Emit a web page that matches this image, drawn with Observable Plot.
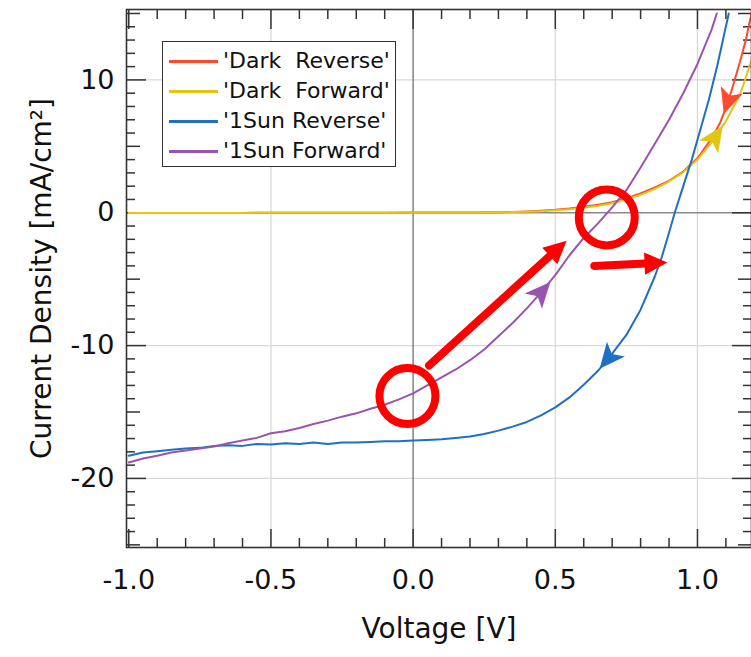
<!DOCTYPE html>
<html><head><meta charset="utf-8">
<script src="https://cdn.jsdelivr.net/npm/d3@7"></script>
<script src="https://cdn.jsdelivr.net/npm/@observablehq/plot@0.6"></script>
<style>
body{margin:0;background:#fff;font-family:"DejaVu Sans",sans-serif;}
#wrap{position:relative;width:751px;height:657px;overflow:hidden;background:#fff;}
#legend{position:absolute;left:162px;top:41px;width:232px;height:124px;border:1.5px solid #333;background:#fff;}
.row{position:absolute;left:0;height:30px;width:100%;}
.row .ln{position:absolute;left:6px;width:49px;top:14px;height:2.5px;}
.row .tx{position:absolute;left:60px;top:0;line-height:30px;font-size:22px;white-space:pre;color:#111;}
</style></head>
<body><div id="wrap"></div>
<script>
// ---- data ----
const seriesNames = ["'Dark  Reverse'", "'Dark  Forward'", "'1Sun Reverse'", "'1Sun Forward'"];
const seriesColors = ["#ff4a2e", "#e2c614", "#1f6fc3", "#9b53b0"];

const darkRevV = [-1.0,-0.9,-0.8,-0.7,-0.6,-0.5,-0.4,-0.3,-0.2,-0.1,0.0,0.1,0.2,0.3,0.35,0.4,0.45,0.5,0.55,0.6,0.65,0.7,0.75,0.8,0.85,0.9,0.95,1.0,1.05,1.08,1.1,1.12,1.15,1.17,1.19];
const darkRevJ = [-0.02,-0.02,-0.01,-0.01,-0.01,0,0,0,0,0,0.01,0.01,0.02,0.04,0.06,0.1,0.15,0.22,0.32,0.45,0.6,0.8,1.1,1.45,1.9,2.4,3.1,4.1,5.6,6.8,7.9,9.2,11.4,13.0,15.0];

const darkFwdV = [-1.0,-0.9,-0.8,-0.7,-0.6,-0.5,-0.4,-0.3,-0.2,-0.1,0.0,0.1,0.2,0.3,0.35,0.4,0.45,0.5,0.55,0.6,0.65,0.7,0.75,0.8,0.85,0.9,0.95,1.0,1.05,1.1,1.15,1.19];
const darkFwdJ = [-0.02,-0.02,-0.01,-0.01,-0.01,0,0,0,0,0,0.01,0.01,0.02,0.03,0.05,0.08,0.12,0.18,0.27,0.38,0.52,0.72,1.0,1.35,1.8,2.35,3.05,4.0,5.3,6.9,8.9,11.5];

const sunRevV = [-1.0,-0.95,-0.9,-0.85,-0.8,-0.75,-0.7,-0.65,-0.6,-0.55,-0.5,-0.45,-0.4,-0.35,-0.3,-0.25,-0.2,-0.15,-0.1,-0.05,0.0,0.05,0.1,0.15,0.2,0.25,0.3,0.35,0.4,0.45,0.5,0.55,0.6,0.65,0.7,0.75,0.8,0.85,0.875,0.9,0.92,0.95,0.98,1.0,1.04,1.07,1.11];
const sunRevJ = [-18.3,-18.05,-17.95,-17.85,-17.75,-17.7,-17.55,-17.5,-17.55,-17.4,-17.45,-17.35,-17.4,-17.3,-17.4,-17.3,-17.3,-17.25,-17.2,-17.2,-17.15,-17.1,-17.05,-16.95,-16.85,-16.65,-16.4,-16.1,-15.75,-15.25,-14.65,-13.9,-12.95,-11.9,-10.6,-9.2,-7.3,-4.8,-3.3,-1.5,0,2.0,4.0,5.5,8.5,11.1,15.0];

const sunFwdV = [-1.0,-0.95,-0.9,-0.85,-0.8,-0.75,-0.7,-0.65,-0.6,-0.55,-0.5,-0.45,-0.4,-0.35,-0.3,-0.25,-0.2,-0.15,-0.1,-0.05,0.0,0.05,0.1,0.15,0.2,0.25,0.3,0.35,0.4,0.45,0.5,0.55,0.6,0.65,0.7,0.75,0.8,0.85,0.9,0.95,1.0,1.05,1.068];
const sunFwdJ = [-18.8,-18.5,-18.3,-18.05,-17.9,-17.75,-17.6,-17.35,-17.15,-16.95,-16.6,-16.45,-16.2,-15.9,-15.65,-15.35,-15.1,-14.75,-14.45,-14.05,-13.6,-13.0,-12.4,-11.8,-11.1,-10.3,-9.3,-8.3,-7.2,-6.0,-4.7,-3.2,-1.9,-0.8,0.4,1.7,3.4,5.2,7.0,9.0,11.2,13.8,15.0];

// sweep-direction markers: series index, voltage, direction (+1 increasing V, -1 decreasing)
const markerSeries = [0, 1, 2, 3];
const markerV = [1.109, 1.06, 0.689, 0.448];
const markerDir = [-1, 1, -1, 1];

// red annotation arrows and circles
const arrowStartV = [0.056, 0.637];
const arrowStartJ = [-11.5, -4.0];
const arrowEndV = [0.54, 0.894];
const arrowEndJ = [-2.1, -3.75];
const circleV = [-0.02, 0.681];
const circleJ = [-13.8, -0.35];

// axis ticks
const xMajor = [-1.0, -0.5, 0.0, 0.5, 1.0];
const xMinor = d3.range(-10, 12).map(i => i / 10).filter(v => Math.abs(v * 2 - Math.round(v * 2)) > 1e-6);
const yMajor = [-20, -10, 0, 10];
const yMid = [-25, -15, -5, 5, 15];
const yMinor = d3.range(-25, 16).filter(v => v % 5 !== 0);
const xGrid = [-0.5, 0.5, 1.0];
const yGrid = [-20, -10, 10];

// ---- layout ----
const W = 751, H = 657, mL = 126, mR = 0, mT = 9, mB = 110;
const xDom = [-1.008, 1.19], yDom = [-25.2, 15.3];
const kx = (W - mL - mR) / (xDom[1] - xDom[0]);
const ky = (H - mT - mB) / (yDom[1] - yDom[0]);

const seriesV = [darkRevV, darkFwdV, sunRevV, sunFwdV];
const seriesJ = [darkRevJ, darkFwdJ, sunRevJ, sunFwdJ];
const tables = seriesV.map((vs, s) => vs.map((v, i) => ({V: v, J: seriesJ[s][i], s: seriesNames[s]})));

function interp(vs, js, v) {
  for (let i = 0; i < vs.length - 1; i++) {
    if (v >= vs[i] && v <= vs[i + 1]) {
      const t = (v - vs[i]) / (vs[i + 1] - vs[i]);
      return {J: js[i] + t * (js[i + 1] - js[i]), slope: (js[i + 1] - js[i]) / (vs[i + 1] - vs[i])};
    }
  }
  return {J: js[js.length - 1], slope: 0};
}

// symbol: rotated shape (angle in degrees, clockwise from "up")
function rotSymbol(points, angleDeg) {
  const a = angleDeg * Math.PI / 180, c = Math.cos(a), s = Math.sin(a);
  return {
    draw(ctx, size) {
      const r = Math.sqrt(size / Math.PI);
      points.forEach(([px, py], i) => {
        const x = px * r, y = py * r;
        const X = x * c - y * s, Y = x * s + y * c;
        if (i === 0) ctx.moveTo(X, Y); else ctx.lineTo(X, Y);
      });
      ctx.closePath();
    }
  };
}
const notched = [[0, -1.85], [1.45, 1.35], [0, 0.55], [-1.45, 1.35]];
const plainTip = [[0, 0], [1.4, 2.85], [-1.4, 2.85]];

const markerMarks = markerSeries.map((s, k) => {
  const {J, slope} = interp(seriesV[s], seriesJ[s], markerV[k]);
  const d = markerDir[k];
  const ang = Math.atan2(d * kx, d * slope * ky) * 180 / Math.PI;
  return Plot.dot([{V: markerV[k], J}], {x: "V", y: "J", r: 8, fill: seriesColors[s], symbol: rotSymbol(notched, ang)});
});

const arrows = arrowStartV.map((v, i) => ({x1: v, y1: arrowStartJ[i], x2: arrowEndV[i], y2: arrowEndJ[i]}));
const headMarks = arrows.map(a => {
  const ang = Math.atan2((a.x2 - a.x1) * kx, (a.y2 - a.y1) * ky) * 180 / Math.PI;
  return Plot.dot([a], {x: "x2", y: "y2", r: 8, fill: "#ff0000", symbol: rotSymbol(plainTip, ang)});
});
const circles = circleV.map((v, i) => ({V: v, J: circleJ[i]}));

const tickStroke = "#333";
const noText = () => "";

const chart = Plot.plot({
  width: W, height: H,
  marginLeft: mL, marginRight: mR, marginTop: mT, marginBottom: mB,
  style: {fontFamily: "DejaVu Sans", fontSize: "27px", background: "white", color: "#111", overflow: "visible"},
  x: {domain: xDom},
  y: {domain: yDom},
  marks: [
    Plot.gridX(xGrid, {stroke: "#d9d9d9", strokeOpacity: 1, strokeWidth: 1.3}),
    Plot.gridY(yGrid, {stroke: "#d9d9d9", strokeOpacity: 1, strokeWidth: 1.3}),
    Plot.ruleX([0], {stroke: "#8a8a8a", strokeWidth: 1.6}),
    Plot.ruleY([0], {stroke: "#8a8a8a", strokeWidth: 1.6}),
    // ticks (inward, all four sides)
    Plot.axisX(xMajor, {anchor: "bottom", tickSize: -18, tickFormat: noText, label: null, stroke: tickStroke, strokeWidth: 1.5}),
    Plot.axisX(xMinor, {anchor: "bottom", tickSize: -9, tickFormat: noText, label: null, stroke: tickStroke, strokeWidth: 1.5}),
    Plot.axisX(xMajor, {anchor: "top", tickSize: -19, tickFormat: noText, label: null, stroke: tickStroke, strokeWidth: 1.5}),
    Plot.axisX(xMinor, {anchor: "top", tickSize: -9, tickFormat: noText, label: null, stroke: tickStroke, strokeWidth: 1.5}),
    Plot.axisY(yMajor, {anchor: "left", tickSize: -20, tickFormat: noText, label: null, stroke: tickStroke, strokeWidth: 1.5}),
    Plot.axisY(yMid, {anchor: "left", tickSize: -14, tickFormat: noText, label: null, stroke: tickStroke, strokeWidth: 1.5}),
    Plot.axisY(yMinor, {anchor: "left", tickSize: -9, tickFormat: noText, label: null, stroke: tickStroke, strokeWidth: 1.5}),
    Plot.axisY(yMajor, {anchor: "right", tickSize: -20, tickFormat: noText, label: null, stroke: tickStroke, strokeWidth: 1.5}),
    Plot.axisY(yMid, {anchor: "right", tickSize: -14, tickFormat: noText, label: null, stroke: tickStroke, strokeWidth: 1.5}),
    Plot.axisY(yMinor, {anchor: "right", tickSize: -9, tickFormat: noText, label: null, stroke: tickStroke, strokeWidth: 1.5}),
    // tick labels
    Plot.axisX(xMajor, {anchor: "bottom", tickSize: 0, tickPadding: 22, tickFormat: d => d.toFixed(1), label: null, fontSize: 27, fill: "#111"}),
    Plot.axisY(yMajor, {anchor: "left", tickSize: 0, tickPadding: 12, tickFormat: d => String(d), label: null, fontSize: 27, fill: "#111"}),
    // axis titles
    Plot.text(["Voltage [V]"], {text: d => d, frameAnchor: "bottom", dy: 90, fontSize: 28, fill: "#111", textAnchor: "middle"}),
    Plot.text(["Current Density [mA/cm²]"], {text: d => d, frameAnchor: "left", rotate: -90, dx: -84, fontSize: 28, fill: "#111", textAnchor: "middle", lineAnchor: "middle"}),
    // curves
    ...tables.map((t, s) => Plot.line(t, {x: "V", y: "J", stroke: seriesColors[s], strokeWidth: 2})),
    ...markerMarks,
    // red annotations
    Plot.arrow(arrows, {x1: "x1", y1: "y1", x2: "x2", y2: "y2", stroke: "#ff0000", strokeWidth: 8, headLength: 0, insetEnd: 12}),
    ...headMarks,
    Plot.dot(circles, {x: "V", y: "J", r: 28, stroke: "#ff0000", strokeWidth: 8, fill: "none"}),
    Plot.frame({stroke: "#333", strokeWidth: 1.6})
  ]
});

const wrap = document.getElementById("wrap");
wrap.appendChild(chart);

// legend
const lg = document.createElement("div");
lg.id = "legend";
seriesNames.forEach((name, i) => {
  const row = document.createElement("div");
  row.className = "row";
  row.style.top = (4 + i * 30) + "px";
  const ln = document.createElement("div");
  ln.className = "ln";
  ln.style.background = seriesColors[i];
  const tx = document.createElement("div");
  tx.className = "tx";
  tx.textContent = name;
  row.appendChild(ln); row.appendChild(tx);
  lg.appendChild(row);
});
wrap.appendChild(lg);
</script>
</body></html>
